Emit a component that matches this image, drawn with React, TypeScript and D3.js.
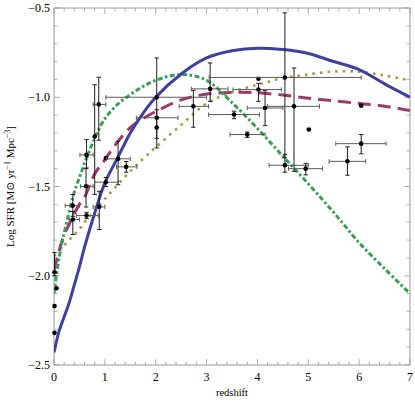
import * as d3 from "d3";

const W = 415;
const H = 406;
const margin = { left: 54, right: 5, top: 8, bottom: 41 };

// model curves, all sampled on the same redshift grid
const modelZ = [0, 0.1, 0.2, 0.3, 0.4, 0.5, 0.6, 0.8, 1.0, 1.25, 1.5, 1.75, 2.0, 2.5, 3.0, 3.5, 4.0, 4.5, 5.0, 5.5, 6.0, 6.5, 7.0];
const blueSFR = [-2.43, -2.31, -2.23, -2.15, -2.05, -1.95, -1.84, -1.65, -1.48, -1.34, -1.2, -1.09, -1.0, -0.87, -0.78, -0.74, -0.725, -0.733, -0.755, -0.8, -0.845, -0.925, -1.0];
const greenSFR = [-2.1, -1.9, -1.76, -1.64, -1.53, -1.45, -1.37, -1.23, -1.12, -1.04, -0.985, -0.94, -0.905, -0.872, -0.905, -1.03, -1.175, -1.33, -1.485, -1.645, -1.815, -1.96, -2.1];
const purpleSFR = [-1.97, -1.86, -1.77, -1.71, -1.65, -1.6, -1.56, -1.43, -1.35, -1.25, -1.17, -1.12, -1.08, -1.015, -0.982, -0.973, -0.975, -0.988, -1.005, -1.02, -1.035, -1.05, -1.075];
const oliveSFR = [-1.89, -1.86, -1.83, -1.8, -1.77, -1.74, -1.7, -1.635, -1.57, -1.49, -1.415, -1.345, -1.28, -1.155, -1.035, -0.972, -0.93, -0.893, -0.872, -0.856, -0.857, -0.878, -0.905];

// observations: z, log SFR, and error ranges (null = no bar)
const obsZ = [2.02, 3.07, 2.74, 2.02, 2.02, 4.02, 4.54, 4.02, 4.72, 4.54, 4.95, 5.01, 6.04, 5.77, 6.04, 3.54, 3.8, 4.15, 0.88, 0.8, 0.64, 1.02, 1.26, 1.42, 0.63, 1.02, 0.89, 0.37, 0.37, 0.64, 0.01, 0.05, 0.01, 0.01];
const obsSFR = [-1.0, -0.953, -1.051, -1.115, -1.17, -0.896, -0.889, -0.957, -1.051, -1.381, -1.4, -1.181, -1.26, -1.359, -1.047, -1.097, -1.209, -1.06, -1.04, -1.22, -1.323, -1.34, -1.345, -1.39, -1.499, -1.476, -1.614, -1.607, -1.685, -1.663, -1.98, -2.07, -2.17, -2.32];
const obsZLo = [1.02, 2.7, 2.46, 1.62, null, null, 3.05, 3.52, 4.2, 4.23, 4.61, null, 5.54, 5.41, null, 3.04, 3.46, 3.8, 0.77, null, 0.51, null, 1.03, 1.23, 0.52, 0.8, 0.77, 0.22, 0.3, 0.44, null, null, null, null];
const obsZHi = [3.0, 3.42, 3.04, 2.44, null, null, 6.04, 4.47, 5.22, 5.0, 5.28, null, 6.53, 6.13, null, 4.04, 4.15, 4.5, 1.02, null, 0.77, null, 1.5, 1.63, 0.77, 1.26, 1.0, 0.5, 0.5, 0.87, null, null, null, null];
const obsSFRHi = [-0.78, -0.808, -0.961, null, -1.07, null, -0.527, -0.922, -0.836, -1.32, -1.37, null, -1.209, -1.278, null, -1.078, -1.195, -0.963, -0.888, -0.93, -1.237, null, -1.247, -1.36, -1.4, -1.45, -1.527, -1.545, -1.64, -1.645, -1.87, null, null, null];
const obsSFRLo = [-1.23, -1.023, -1.168, null, -1.284, null, -1.34, -1.023, -1.415, -1.42, -1.435, null, -1.317, -1.437, null, -1.12, -1.225, -1.159, -1.241, -1.545, -1.396, null, -1.49, -1.42, -1.615, -1.5, -1.741, -1.667, -1.769, -1.68, -2.0, null, null, null];

const xTicks = [0, 1, 2, 3, 4, 5, 6, 7];
const yTicks = [-2.5, -2.0, -1.5, -1.0, -0.5];

const font = "'Liberation Serif', 'DejaVu Serif', serif";

export default function App() {
  const x = d3.scaleLinear().domain([0, 7]).range([margin.left, W - margin.right]);
  const y = d3.scaleLinear().domain([-2.5, -0.5]).range([H - margin.bottom, margin.top]);

  const line = d3
    .line<number>()
    .x((_, i) => x(modelZ[i]))
    .y((d) => y(d))
    .curve(d3.curveCatmullRom.alpha(0.5));

  const xMinor = d3.range(0, 7.0001, 0.2);
  const yMinor = d3.range(-2.5, -0.4999, 0.1);
  const x0 = x(0), x1 = x(7), y0 = y(-2.5), y1 = y(-0.5);
  const frame = "#9a9a9a";
  const cap = 2.2;

  const fmt = (v: number) => v.toFixed(1).replace("-", "\u2212");

  return (
    <div style={{ position: "absolute", left: 0, top: 0 }}>
      <svg width={W} height={H} style={{ display: "block", background: "#fff" }}>
        <defs>
          <clipPath id="plot">
            <rect x={x0} y={y1} width={x1 - x0} height={y0 - y1} />
          </clipPath>
        </defs>

        {/* frame + ticks */}
        <rect x={x0} y={y1} width={x1 - x0} height={y0 - y1} fill="none" stroke={frame} strokeWidth={1} />
        <g stroke={frame} strokeWidth={0.8}>
          {xMinor.map((t, i) => {
            const len = Math.abs(t - Math.round(t)) < 1e-6 ? 6 : 3.5;
            return (
              <g key={"xt" + i}>
                <line x1={x(t)} x2={x(t)} y1={y0} y2={y0 - len} />
                <line x1={x(t)} x2={x(t)} y1={y1} y2={y1 + len} />
              </g>
            );
          })}
          {yMinor.map((t, i) => {
            const len = Math.abs(t * 2 - Math.round(t * 2)) < 1e-6 ? 6 : 3.5;
            return (
              <g key={"yt" + i}>
                <line x1={x0} x2={x0 + len} y1={y(t)} y2={y(t)} />
                <line x1={x1} x2={x1 - len} y1={y(t)} y2={y(t)} />
              </g>
            );
          })}
        </g>

        <g fontFamily={font} fontSize={12} fill="#000">
          {xTicks.map((t) => (
            <text key={"xl" + t} x={x(t)} y={y0 + 16} textAnchor="middle">
              {t}
            </text>
          ))}
          {yTicks.map((t) => (
            <text key={"yl" + t} x={x0 - 4} y={y(t) + 4} textAnchor="end">
              {fmt(t)}
            </text>
          ))}
        </g>

        <text x={(x0 + x1) / 2} y={H - 10} textAnchor="middle" fontFamily={font} fontSize={10.5}>
          redshift
        </text>
        <text
          transform={`translate(14,${(y0 + y1) / 2}) rotate(-90)`}
          textAnchor="middle"
          fontFamily={font}
          fontSize={11}
        >
          Log SFR [M<tspan>{"\u2299"}</tspan> yr
          <tspan dy={-4} fontSize={8}>{"\u2212"}1</tspan>
          <tspan dy={4}> Mpc</tspan>
          <tspan dy={-4} fontSize={8}>{"\u2212"}3</tspan>
          <tspan dy={4}>]</tspan>
        </text>

        <g clipPath="url(#plot)" fill="none">
          <path d={line(oliveSFR) ?? ""} stroke="#a8964e" strokeWidth={2.6} strokeDasharray="2.6,5" />
          <path d={line(purpleSFR) ?? ""} stroke="#9c3a6c" strokeWidth={3} strokeDasharray="13,7" />
          <path d={line(greenSFR) ?? ""} stroke="#3c9c5a" strokeWidth={3} strokeDasharray="5,2.5,2.5,2.5" />
          <path d={line(blueSFR) ?? ""} stroke="#3f3f9f" strokeWidth={3} />
        </g>

        <g>
          {obsZ.map((z, i) => {
            const cx = x(z), cy = y(obsSFR[i]);
            const zl = obsZLo[i], zh = obsZHi[i], sh = obsSFRHi[i], sl = obsSFRLo[i];
            return (
              <g key={"obs" + i}>
                {zl !== null && zh !== null && (
                  <g stroke="#5a5a5a" strokeWidth={1}>
                    <line x1={x(zl)} x2={x(zh)} y1={cy} y2={cy} />
                    <line x1={x(zl)} x2={x(zl)} y1={cy - cap} y2={cy + cap} />
                    <line x1={x(zh)} x2={x(zh)} y1={cy - cap} y2={cy + cap} />
                  </g>
                )}
                {sh !== null && sl !== null && (
                  <g stroke="#1e1e1e" strokeWidth={1}>
                    <line x1={cx} x2={cx} y1={y(sh)} y2={y(sl)} />
                    <line x1={cx - cap} x2={cx + cap} y1={y(sh)} y2={y(sh)} />
                    <line x1={cx - cap} x2={cx + cap} y1={y(sl)} y2={y(sl)} />
                  </g>
                )}
                <circle cx={cx} cy={cy} r={2.3} fill="#000" />
              </g>
            );
          })}
        </g>
      </svg>
    </div>
  );
}
